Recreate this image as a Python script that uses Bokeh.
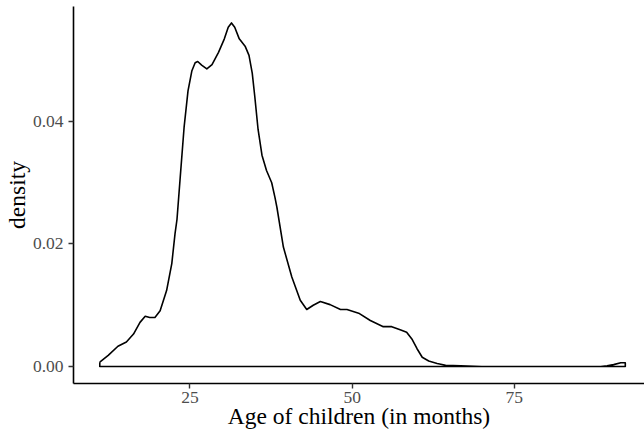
from bokeh.plotting import figure
from bokeh.models import FixedTicker, Range1d, NumeralTickFormatter
from bokeh.embed import file_html
from bokeh.resources import INLINE

# Density curve (age in months, density)
age = [11.1, 12.4, 13.9, 15.2, 16.3, 17.3, 18.1, 18.8, 19.6, 20.4, 21.4, 22.2,
       22.7, 23.0, 23.5, 24.1, 24.7, 25.3, 25.8, 26.2, 26.8, 27.6, 28.4, 29.4,
       30.3, 30.9, 31.4, 31.9, 32.6, 33.5, 34.1, 34.6, 35.0, 35.5, 36.1, 36.8,
       37.6, 38.1, 38.4, 39.4,
       40.7, 42.0, 43.0, 44.0, 45.1, 46.6, 48.2, 49.2, 51.0, 52.8, 53.6, 54.8,
       56.1, 57.4, 58.4, 59.2, 60.0, 60.8, 61.8, 63.1, 64.4, 66.7, 70.0, 75.0,
       80.0, 85.0, 88.3, 89.3, 90.3, 91.4, 92.1]
density = [0.0007, 0.0018, 0.0033, 0.0040, 0.0053, 0.0072, 0.0082, 0.0080, 0.0080,
           0.0091, 0.0124, 0.0168,
           0.0217, 0.0240, 0.0309, 0.0391, 0.0450, 0.0483, 0.0496, 0.0498, 0.0492,
           0.0486, 0.0493, 0.0513, 0.0535, 0.0554, 0.0561, 0.0554, 0.0535, 0.0523,
           0.0508, 0.0479, 0.0440, 0.0387, 0.0345, 0.0320, 0.0300, 0.0276, 0.0260,
           0.0195,
           0.0146, 0.0108, 0.0093, 0.0100, 0.0106, 0.0101, 0.0093, 0.0093, 0.0087,
           0.0075, 0.0071, 0.0065, 0.0065, 0.0060, 0.0056, 0.0045, 0.0029, 0.0015,
           0.0009, 0.0005, 0.0002, 0.0001, 0.0000, 0.0000, 0.0000, 0.0000, 0.0000,
           0.0001, 0.0003, 0.0006, 0.0006]

x_ticks = [25, 50, 75]
y_ticks = [0.0, 0.02, 0.04]
x_title = "Age of children (in months)"
y_title = "density"

FONT = "Liberation Serif"

p = figure(width=644, height=431, output_backend="svg", toolbar_location=None,
           x_range=Range1d(7.05, 95.06), y_range=Range1d(-0.00278, 0.05878),
           min_border_left=0, min_border_right=0, min_border_top=6, min_border_bottom=0)
p.outline_line_color = None
p.grid.visible = False
p.background_fill_color = "white"
p.border_fill_color = "white"

# closed outline: curve plus baseline back to the start
xs = age + [age[-1], age[0], age[0]]
ys = density + [0.0, 0.0, density[0]]
p.line(xs, ys, line_color="black", line_width=1.6, line_join="round")

for ax in (p.xaxis[0], p.yaxis[0]):
    ax.axis_line_color = "black"
    ax.axis_line_width = 1.6
    ax.major_tick_line_color = "#333333"
    ax.major_tick_line_width = 1.4
    ax.major_tick_out = 5
    ax.major_tick_in = 0
    ax.minor_tick_line_color = None
    ax.major_label_text_font = FONT
    ax.major_label_text_font_size = "17.5px"
    ax.major_label_text_color = "#4D4D4D"
    ax.axis_label_text_font = FONT
    ax.axis_label_text_font_size = "23.5px"
    ax.axis_label_text_font_style = "normal"
    ax.axis_label_text_color = "black"

p.xaxis[0].ticker = FixedTicker(ticks=x_ticks)
p.yaxis[0].ticker = FixedTicker(ticks=y_ticks)
p.yaxis[0].formatter = NumeralTickFormatter(format="0.00")
p.xaxis[0].axis_label = x_title
p.yaxis[0].axis_label = y_title
p.xaxis[0].major_label_standoff = 3
p.yaxis[0].major_label_standoff = 5
p.xaxis[0].axis_label_standoff = -3
p.yaxis[0].axis_label_standoff = 0

open("out.html", "w").write(file_html(p, INLINE))
